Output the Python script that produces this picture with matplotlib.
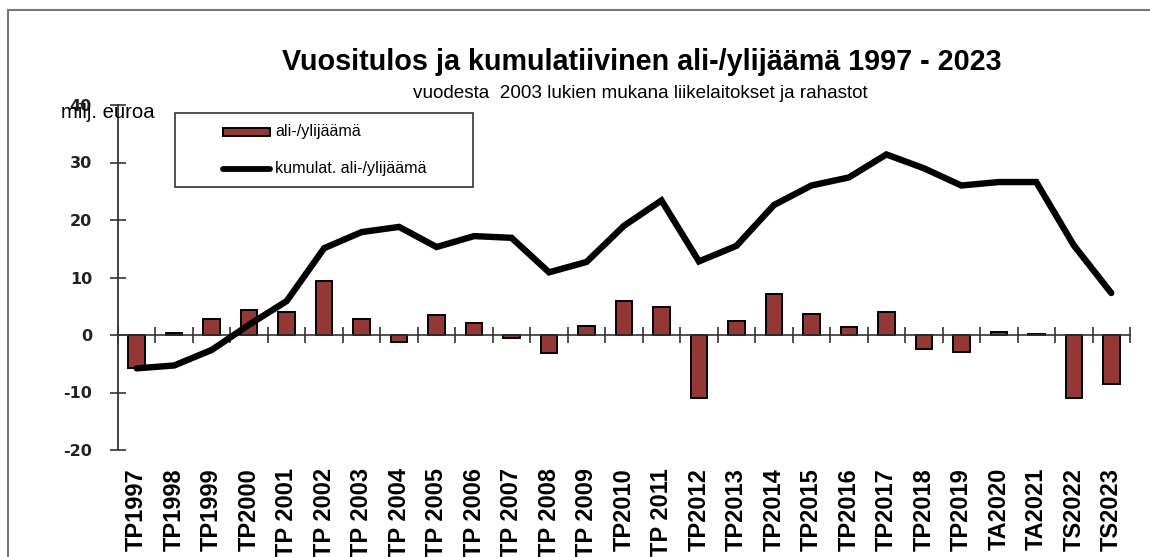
import numpy as np
import matplotlib
matplotlib.use("Agg")
from matplotlib import pyplot as plt
from matplotlib.patches import Rectangle
from matplotlib.lines import Line2D

# data (milj. euroa)
kaudet = ["TP1997", "TP1998", "TP1999", "TP2000", "TP 2001", "TP 2002", "TP 2003",
          "TP 2004", "TP 2005", "TP 2006", "TP 2007", "TP 2008", "TP 2009", "TP2010",
          "TP 2011", "TP2012", "TP2013", "TP2014", "TP2015", "TP2016", "TP2017",
          "TP2018", "TP2019", "TA2020", "TA2021", "TS2022", "TS2023"]
alijaama = [-5.7, 0.3, 2.8, 4.4, 4.0, 9.4, 2.8, -1.2, 3.5, 2.1, -0.5, -3.2, 1.6,
            6.0, 4.8, -10.9, 2.5, 7.2, 3.7, 1.4, 4.0, -2.4, -3.0, 0.6, 0.15, -10.9, -8.5]
kumulat = [-5.8, -5.3, -2.6, 1.8, 5.9, 15.1, 17.9, 18.8, 15.3, 17.2, 16.9, 10.9, 12.7,
           19.0, 23.4, 12.8, 15.5, 22.6, 26.0, 27.4, 31.4, 29.0, 26.0, 26.6, 26.6, 15.6, 7.3]
yticks = [-20, -10, 0, 10, 20, 30, 40]

W, H = 1150, 557
fig = plt.figure(figsize=(W / 100, H / 100), dpi=100)
ax = fig.add_axes([118 / W, 1 - 450 / H, (1130 - 118) / W, (450 - 105) / H])

x = np.arange(len(kaudet))
ax.bar(x, alijaama, width=0.44, color="#953735", edgecolor="black", linewidth=1.4, zorder=2)
ax.plot(x, kumulat, color="black", linewidth=4.6, solid_joinstyle="miter",
        solid_capstyle="round", zorder=3)

ax.set_xlim(-0.5, len(kaudet) - 0.5)
ax.set_ylim(-20, 40)

for s in ["top", "right"]:
    ax.spines[s].set_visible(False)
ax.spines["left"].set_color("#333333")
ax.spines["left"].set_linewidth(1.3)
ax.set_yticks(yticks)
ax.set_yticklabels([str(v) for v in yticks], fontfamily="DejaVu Sans", fontweight="bold",
                   fontsize=11.5, color="#222222")
ax.tick_params(axis="y", direction="inout", length=11.5, width=1.2, color="#333333", pad=13)

# x axis line at zero with category boundary ticks
ax.spines["bottom"].set_position(("data", 0))
ax.spines["bottom"].set_color("#333333")
ax.spines["bottom"].set_linewidth(1.2)
ax.set_xticks(np.arange(len(kaudet) + 1) - 0.5)
ax.tick_params(axis="x", direction="inout", length=11.5, width=1.2, color="#333333",
               labelbottom=False)

sec = ax.secondary_xaxis("bottom")
sec.set_xticks(x)
sec.set_xticklabels(kaudet, rotation=90, fontfamily="Liberation Sans",
                    fontweight="bold", fontsize=17, va="top")
sec.tick_params(axis="x", length=0, pad=13)
sec.spines["bottom"].set_visible(False)

# titles
fig.text(642 / W, 1 - 62 / H, "Vuositulos ja kumulatiivinen ali-/ylijäämä 1997 - 2023",
         ha="center", va="center", fontsize=20.7, fontweight="bold",
         fontfamily="Liberation Sans")
fig.text(640 / W, 1 - 93 / H, "vuodesta  2003 lukien mukana liikelaitokset ja rahastot",
         ha="center", va="center", fontsize=13.6, fontfamily="Liberation Sans")
fig.text(61 / W, 1 - 113 / H, "milj. euroa", ha="left", va="center", fontsize=14.6,
         fontfamily="Liberation Sans")

# legend drawn by hand
fig.add_artist(Rectangle((175 / W, 1 - 187 / H), (473 - 175) / W, (187 - 113) / H,
                         transform=fig.transFigure, facecolor="white",
                         edgecolor="#333333", linewidth=1.2))
fig.add_artist(Rectangle((223 / W, 1 - 136 / H), (270 - 223) / W, 8 / H,
                         transform=fig.transFigure, facecolor="#953735",
                         edgecolor="black", linewidth=1.4))
fig.add_artist(Line2D([223 / W, 270 / W], [1 - 169 / H, 1 - 169 / H],
                      transform=fig.transFigure, color="black", linewidth=4.2,
                      solid_capstyle="round"))
fig.text(275 / W, 1 - 132 / H, "ali-/ylijäämä", ha="left", va="center", fontsize=11.6,
         fontfamily="Liberation Sans")
fig.text(275 / W, 1 - 169 / H, "kumulat. ali-/ylijäämä", ha="left", va="center",
         fontsize=11.6, fontfamily="Liberation Sans")

# outer frame (left and top edges visible)
fig.add_artist(Rectangle((8 / W, -0.2), 1.5, 1.2 - 10 / H, transform=fig.transFigure,
                         facecolor="none", edgecolor="#777777", linewidth=1.5,
                         clip_on=False))

fig.savefig("out.png", dpi=100)
